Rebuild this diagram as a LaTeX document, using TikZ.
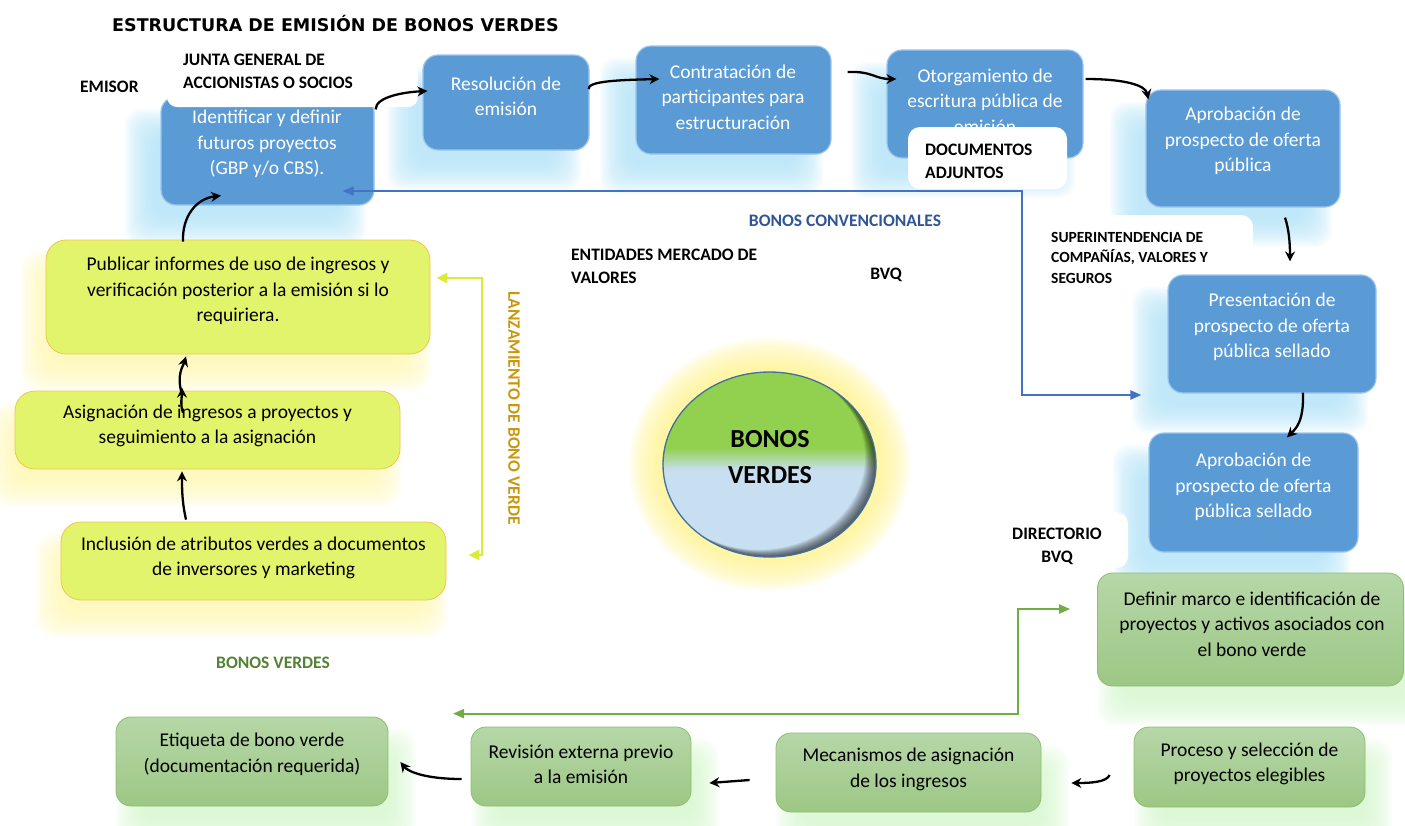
\documentclass[tikz,border=0pt]{standalone}
\usepackage{fontspec}
\setmainfont{Carlito}
\newfontfamily\titlefont{DejaVu Sans}
\usetikzlibrary{arrows.meta,calc,shapes.geometric}
\pgfdeclarelayer{glow}
\pgfsetlayers{glow,main}
\definecolor{bxblue}{HTML}{5B9BD5}
\definecolor{bxblueedge}{HTML}{9CC5EE}
\definecolor{glowblue}{HTML}{B0E2F7}
\definecolor{bxyel}{HTML}{E2F46C}
\definecolor{bxyeledge}{HTML}{F2C44E}
\definecolor{glowyel}{HTML}{FFF7B0}
\definecolor{grtop}{HTML}{B6D7A8}
\definecolor{grbot}{HTML}{9DC785}
\definecolor{gredge}{HTML}{8CBF6E}
\definecolor{glowgr}{HTML}{D3F6CB}
\definecolor{linblue}{HTML}{4472C4}
\definecolor{txtblue}{HTML}{2F5597}
\definecolor{lingreen}{HTML}{70AD47}
\definecolor{txtgreen}{HTML}{548235}
\definecolor{linyel}{HTML}{DCEB3A}
\definecolor{txtgold}{HTML}{C9970C}
\definecolor{elgreen}{HTML}{92D050}
\definecolor{elblue}{HTML}{C8DEF1}
\definecolor{eledge}{HTML}{41719C}
\definecolor{halo}{HTML}{FFF28A}
\pgfdeclareverticalshading{ellshade}{100bp}{color(0bp)=(elblue); color(48.5bp)=(elblue); color(54.5bp)=(elgreen); color(100bp)=(elgreen)}
\newcommand{\glowof}[5]{%
  \foreach \k in {0,...,28}{%
    \pgfmathsetmacro\ee{14-\k}%
    \fill[#4, opacity=0.05, rounded corners=#5]
      ($(#1.north west)+({#2-\ee},{#3-\ee})$) rectangle ($(#1.south east)+({#2+\ee},{#3+\ee})$);
  }}
\tikzset{
  bluebox/.style={draw=bxblueedge, line width=1.2pt, fill=bxblue, rounded corners=15pt, inner sep=0pt},
  yelbox/.style={draw=bxyeledge, line width=0.8pt, fill=bxyel, rounded corners=20pt, inner sep=0pt},
  grbox/.style={draw=gredge, line width=0.8pt, top color=grtop, bottom color=grbot, rounded corners=15pt, inner sep=0pt},
  btxt/.style={text=white, font=\fontsize{19.5}{25.5}\selectfont, align=center, inner sep=0pt},
  dtxt/.style={text=black, font=\fontsize{19.5}{25.5}\selectfont, align=center, inner sep=0pt},
  lbl/.style={font=\fontsize{17.5}{23}\selectfont\bfseries, inner sep=0pt, align=left},
  blk/.style={draw=black, line width=2.3pt, -{Stealth[length=10pt,width=10pt]}},
  bluecon/.style={draw=linblue, line width=2pt, {Triangle[length=11pt,width=9pt]}-{Triangle[length=11pt,width=9pt]}},
  grcon/.style={draw=lingreen, line width=2pt, {Triangle[length=11pt,width=9pt]}-{Triangle[length=11pt,width=9pt]}},
  ylcon/.style={draw=linyel, line width=2.5pt, {Triangle[length=11pt,width=10pt]}-{Triangle[length=11pt,width=10pt]}},
}
\begin{document}
\begin{tikzpicture}[x=1pt,y=-1pt]
\useasboundingbox (0,0) rectangle (1405,825);

% boxes
\node[bluebox, minimum width=213pt, minimum height=108pt] (b1) at (267.5,151) {};
\node[bluebox, minimum width=166pt, minimum height=95pt] (b2) at (506,102.5) {};
\node[bluebox, minimum width=195pt, minimum height=108pt] (b3) at (733.5,100) {};
\node[bluebox, minimum width=196pt, minimum height=108pt] (b4) at (985,104) {};
\node[bluebox, minimum width=194pt, minimum height=117pt] (b5) at (1243,148.5) {};
\node[bluebox, minimum width=208pt, minimum height=118pt] (b6) at (1272,334) {};
\node[bluebox, minimum width=209pt, minimum height=119pt] (b7) at (1253.5,492.5) {};
\node[grbox, minimum width=306pt, minimum height=113pt] (g1) at (1250.5,629.5) {};
\node[grbox, minimum width=231pt, minimum height=80pt] (g2) at (1249.5,767) {};
\node[grbox, minimum width=265pt, minimum height=79pt] (g3) at (908.5,772.5) {};
\node[grbox, minimum width=220pt, minimum height=79pt] (g4) at (581,766.5) {};
\node[grbox, minimum width=272pt, minimum height=89pt] (g5) at (252,761.5) {};
\node[yelbox, minimum width=384pt, minimum height=114pt] (y1) at (238,297) {};
\node[yelbox, minimum width=385pt, minimum height=78pt] (y2) at (207.5,430) {};
\node[yelbox, minimum width=385pt, minimum height=78pt] (y3) at (253.5,561) {};

% glows
\begin{pgfonlayer}{glow}
  \foreach \n in {b1,b2,b3,b4,b5,b6,b7} {\glowof{\n}{-22}{26}{glowblue}{16pt}}
  \foreach \n in {y1,y2,y3} {\glowof{\n}{-12}{24}{glowyel}{20pt}}
  \foreach \n in {g1,g2,g3,g4,g5} {\glowof{\n}{14}{26}{glowgr}{16pt}}
  \foreach \k in {0,...,35} {\fill[halo, opacity=0.042] (769.5,464.5) ellipse [x radius={141.5pt-1pt*\k}, y radius={127.5pt-1pt*\k}];}
\end{pgfonlayer}

% ellipse
\node[ellipse, minimum width=213pt, minimum height=185pt, inner sep=0pt, shading=ellshade] (el) at (769.5,464.5) {};
\begin{scope}
  \clip (el.center) ellipse [x radius=106.5pt, y radius=92.5pt];
  \foreach \s in {1,...,12} {
    \fill[black, opacity=0.065, even odd rule] (el.center) ellipse [x radius=106.5pt, y radius=92.5pt]
      ($(el.center)+({-0.9*\s},{-0.6*\s})$) ellipse [x radius=106.5pt, y radius=92.5pt];
  }
\end{scope}
\draw[eledge, line width=1.3pt] (el.center) ellipse [x radius=106.5pt, y radius=92.5pt];
\node[font=\fontsize{26}{36}\selectfont\bfseries, align=center, inner sep=0pt] (elt) at (770,457) {BONOS\\VERDES};

% box texts
\node[btxt] (b1t) at (267,144) {Identificar y definir\\futuros proyectos\\(GBP y/o CBS).};
\node[btxt] (b2t) at (506,96.5) {Resolución de\\emisión};
\node[btxt] (b3t) at (733,97) {Contratación de\\participantes para\\estructuración};
\node[btxt] (b4t) at (985,101) {Otorgamiento de\\escritura pública de\\emisión};
\node[btxt] (b5t) at (1243,141) {Aprobación de\\prospecto de oferta\\pública};
\node[btxt] (b6t) at (1272,327) {Presentación de\\prospecto de oferta\\pública sellado};
\node[btxt] (b7t) at (1253.5,487) {Aprobación de\\prospecto de oferta\\pública sellado};
\node[dtxt] (g1t) at (1252,624) {Definir marco e identificación de\\proyectos y activos asociados con\\el bono verde};
\node[dtxt] (g2t) at (1249.5,764) {Proceso y selección de\\proyectos elegibles};
\node[dtxt] (g3t) at (908.5,769.5) {Mecanismos de asignación\\de los ingresos};
\node[dtxt] (g4t) at (581,764.5) {Revisión externa previo\\a la emisión};
\node[dtxt] (g5t) at (252,754.5) {Etiqueta de bono verde\\(documentación requerida)};
\node[dtxt] (y1t) at (238,291) {Publicar informes de uso de ingresos y\\verificación posterior a la emisión si lo\\requiriera.};
\node[dtxt] (y2t) at (207.5,426) {Asignación de ingresos a proyectos y\\seguimiento a la asignación};
\node[dtxt] (y3t) at (253.5,558) {Inclusión de atributos verdes a documentos\\de inversores y marketing};

% white label backgrounds
\fill[white, rounded corners=10pt] (167,38) rectangle (418,107);
\fill[white, rounded corners=12pt] (908,127) rectangle (1067,189);
\fill[white, rounded corners=12pt] (1035,215) rectangle (1253,272);
\fill[white, rounded corners=12pt] (995,512) rectangle (1128,568);

% labels
\node[font=\titlefont\bfseries\fontsize{17.5}{20}\selectfont, anchor=west, inner sep=0pt] (title) at (112,24) {ESTRUCTURA DE EMISIÓN DE BONOS VERDES};
\node[lbl, anchor=west] (emisor) at (80,87) {EMISOR};
\node[lbl, anchor=west] (junta) at (183,71.5) {JUNTA GENERAL DE\\ACCIONISTAS O SOCIOS};
\node[lbl, anchor=west] (docs) at (925,161) {DOCUMENTOS\\ADJUNTOS};
\node[lbl, text=txtblue] (bconv) at (845,221) {BONOS CONVENCIONALES};
\node[lbl, anchor=west] (entid) at (571,266) {ENTIDADES MERCADO DE\\VALORES};
\node[lbl] (bvq) at (886,275) {BVQ};
\node[lbl, anchor=west, font=\fontsize{15.5}{20.5}\selectfont\bfseries] (super) at (1051,257.5) {SUPERINTENDENCIA DE\\COMPAÑÍAS, VALORES Y\\SEGUROS};
\node[lbl, align=center] (direc) at (1057,546) {DIRECTORIO\\BVQ};
\node[lbl, text=txtgreen] (bverdes) at (273,663) {BONOS VERDES};
\node[lbl, text=txtgold, rotate=-90] (lanz) at (514,408) {LANZAMIENTO DE BONO VERDE};

% connectors
\coordinate (bc) at (1022,300);
\draw[bluecon] ($(b1.east)+(-32,40)$) -| (bc) |- ($(b6.west)+(-26,61)$);
\coordinate (gc) at (1018,660);
\draw[grcon] ($(g4.north)+(-128,-13)$) -| (gc) |- ($(g1.west)+(-27,-20.5)$);
\coordinate (yc) at (482,400);
\draw[ylcon] ($(y1.east)+(6,-19)$) -| (yc) |- ($(y3.east)+(22,-6)$);

% black arrows
\draw[blk] ($(b1.north east)+(1,13)$) .. controls +(0,-13) and +(-22,1) .. ($(b2.west)+(5,-11.5)$);
\draw[blk] ($(b2.east)+(-1,-13.5)$) .. controls +(-1,-8) and +(-40,1) .. ($(b3.west)+(24,-21)$);
\draw[blk] ($(b3.east)+(16,-28)$) .. controls +(25,-1) and +(-22,0) .. ($(b4.west)+(10,-25)$);
\draw[blk] ($(b4.east)+(2,-25)$) .. controls +(40,0) and +(-3,-14) .. ($(b5.north west)+(3,10)$);
\draw[blk] ($(b5.south)+(42,10)$) .. controls +(4,12) and +(0,-18) .. ($(b6.north)+(18,-13)$);
\draw[blk] ($(b6.south)+(31,-1)$) .. controls +(1,30) and +(8,-8) .. ($(b7.north)+(33.5,5)$);
\draw[blk] ($(g2.west)+(-24,8)$) .. controls +(-3,7) and +(20,0) .. ($(g3.east)+(30,10.5)$);
\draw[blk] ($(g3.west)+(-26,7.5)$) -- ($(g4.east)+(18,16.5)$);
\draw[blk] ($(g4.west)+(-9,12.5)$) .. controls +(-35,0) and +(8,10) .. ($(g5.east)+(12,0.5)$);
\draw[blk] ($(y3.north)+(-67.5,-2)$) .. controls +(-4,-18) and +(0,18) .. ($(y2.south)+(-25.5,2)$);
\draw[blk] ($(y2.north)+(-24.5,22)$) .. controls +(-3,-8) and +(0,8) .. ($(y2.north)+(-25.5,-3)$);
\draw[blk] ($(y2.north)+(-26,2)$) .. controls +(-5,-18) and +(-3,10) .. ($(y1.south)+(-52,2)$);
\draw[blk] ($(y1.north)+(-55,2)$) .. controls +(-1,-25) and +(-25,3) .. ($(b1.south)+(-46.5,-10)$);
\end{tikzpicture}
\end{document}
